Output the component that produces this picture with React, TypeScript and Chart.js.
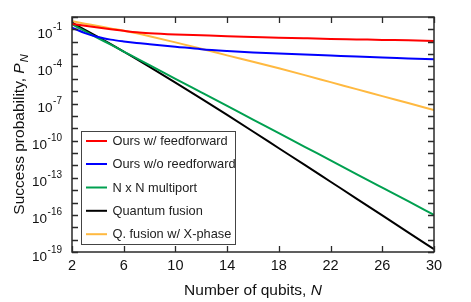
import React, { useEffect, useRef } from "react";
import { Chart, registerables } from "chart.js";

Chart.register(...registerables);

// Number of qubits
const N = [2, 3, 4, 5, 6, 7, 8, 10, 12, 14, 16, 18, 20, 22, 24, 26, 28, 30];

// Success probabilities
const oursFeedforward = [2.7e-1, 1.95e-1, 1.4e-1, 1.02e-1, 7.6e-2, 5.8e-2, 4.9e-2, 3.9e-2, 3.3e-2, 2.8e-2, 2.45e-2, 2.14e-2, 1.9e-2, 1.7e-2, 1.55e-2, 1.41e-2, 1.29e-2, 1.17e-2];
const oursNoFeedforward = [1.38e-1, 5.0e-2, 2.4e-2, 1.48e-2, 1.05e-2, 7.9e-3, 6.3e-3, 4.0e-3, 2.5e-3, 1.78e-3, 1.35e-3, 1.1e-3, 9.1e-4, 7.6e-4, 6.3e-4, 5.4e-4, 4.5e-4, 3.8e-4];
const multiport = [2.6e-1, 7.2e-2, 2.0e-2, 5.8e-3, 1.6e-3, 4.6e-4, 1.3e-4, 1.0e-5, 8.1e-7, 6.5e-8, 5.1e-9, 4.1e-10, 3.2e-11, 2.6e-12, 2.0e-13, 1.6e-14, 1.3e-15, 1.0e-16];
const quantumFusion = [3.5e-1, 9.3e-2, 2.45e-2, 6.3e-3, 1.58e-3, 3.9e-4, 9.3e-5, 5.0e-6, 2.5e-7, 1.2e-8, 5.5e-10, 2.45e-11, 1.1e-12, 4.8e-14, 2.1e-15, 9.1e-17, 3.9e-18, 1.66e-19];
const fusionXPhase = [4.5e-1, 2.9e-1, 1.87e-1, 1.2e-1, 7.8e-2, 4.8e-2, 2.8e-2, 8.9e-3, 2.7e-3, 7.9e-4, 2.4e-4, 7.1e-5, 2.0e-5, 5.4e-6, 1.48e-6, 4.0e-7, 1.1e-7, 3.0e-8];

const seriesLabels = [
  "Ours w/ feedforward",
  "Ours w/o reedforward",
  "N x N multiport",
  "Quantum fusion",
  "Q. fusion w/ X-phase",
];
const seriesColors = ["#ff0000", "#0000ff", "#00a050", "#000000", "#ffb940"];
const seriesValues = [oursFeedforward, oursNoFeedforward, multiport, quantumFusion, fusionXPhase];

// Axis ticks
const xTickValues = [2, 6, 10, 14, 18, 22, 26, 30];
const yLabelExponents = [-1, -4, -7, -10, -13, -16, -19];
const yTickExponents = [0, -1, -2, -3, -4, -5, -6, -7, -8, -9, -10, -11, -12, -13, -14, -15, -16, -17, -18, -19];

const FONT = '"Liberation Sans", Arial, Helvetica, sans-serif';

const decorPlugin = {
  id: "decor",
  afterDraw(chart: any) {
    const ctx = chart.ctx as CanvasRenderingContext2D;
    const { left, right, top, bottom } = chart.chartArea;
    const xs = chart.scales.x;
    const ys = chart.scales.y;
    ctx.save();

    // frame
    ctx.strokeStyle = "#2a2a2a";
    ctx.lineWidth = 1.5;
    ctx.strokeRect(left, top, right - left, bottom - top);

    // y ticks (inward, both sides)
    ctx.lineWidth = 1.3;
    ctx.beginPath();
    for (const e of yTickExponents) {
      const y = Math.round(ys.getPixelForValue(Math.pow(10, e))) + 0.5;
      ctx.moveTo(left, y);
      ctx.lineTo(left + 6, y);
      ctx.moveTo(right, y);
      ctx.lineTo(right - 6, y);
    }
    // x ticks (inward, both sides)
    for (const v of xTickValues) {
      const x = Math.round(xs.getPixelForValue(v)) + 0.5;
      ctx.moveTo(x, bottom);
      ctx.lineTo(x, bottom - 6);
      ctx.moveTo(x, top);
      ctx.lineTo(x, top + 6);
    }
    ctx.stroke();

    // x tick labels
    ctx.fillStyle = "#111";
    ctx.font = `14.5px ${FONT}`;
    ctx.textAlign = "center";
    ctx.textBaseline = "alphabetic";
    for (const v of xTickValues) {
      ctx.fillText(String(v), xs.getPixelForValue(v), bottom + 18);
    }

    // y tick labels 10^e
    for (const e of yLabelExponents) {
      const y = ys.getPixelForValue(Math.pow(10, e));
      const expText = String(e);
      ctx.font = `10px ${FONT}`;
      const ew = ctx.measureText(expText).width;
      const expRight = left - 10;
      ctx.textAlign = "left";
      ctx.fillText(expText, expRight - ew, y + 0.5);
      ctx.font = `13.5px ${FONT}`;
      ctx.textAlign = "right";
      ctx.fillText("10", expRight - ew - 0.5, y + 8.5);
    }

    // x axis title
    {
      const cx = (left + right) / 2;
      const a = "Number of qubits, ";
      ctx.font = `15.5px ${FONT}`;
      const aw = ctx.measureText(a).width;
      ctx.font = `italic 15.5px ${FONT}`;
      const bw = ctx.measureText("N").width;
      const x0 = cx - (aw + bw) / 2;
      ctx.textAlign = "left";
      ctx.font = `15.5px ${FONT}`;
      ctx.fillText(a, x0, 294.5);
      ctx.font = `italic 15.5px ${FONT}`;
      ctx.fillText("N", x0 + aw, 294.5);
    }

    // y axis title (rotated)
    {
      ctx.save();
      const cy = (top + bottom) / 2;
      ctx.translate(24, cy);
      ctx.rotate(-Math.PI / 2);
      const a = "Success probability, ";
      ctx.font = `15.5px ${FONT}`;
      const aw = ctx.measureText(a).width;
      ctx.font = `italic 15.5px ${FONT}`;
      const pw = ctx.measureText("P").width;
      ctx.font = `italic 11px ${FONT}`;
      const nw = ctx.measureText("N").width;
      const total = aw + pw + nw + 1;
      let x = -total / 2;
      ctx.textAlign = "left";
      ctx.font = `15.5px ${FONT}`;
      ctx.fillText(a, x, 0);
      x += aw;
      ctx.font = `italic 15.5px ${FONT}`;
      ctx.fillText("P", x, 0);
      x += pw + 1;
      ctx.font = `italic 11px ${FONT}`;
      ctx.fillText("N", x, 3.5);
      ctx.restore();
    }

    // legend
    {
      const bx = 81.5, by = 131.5, bw = 154, bh = 113;
      ctx.fillStyle = "#fff";
      ctx.fillRect(bx, by, bw, bh);
      ctx.strokeStyle = "#444";
      ctx.lineWidth = 1;
      ctx.strokeRect(bx, by, bw, bh);
      const rowY = [141, 164, 187.5, 210.8, 234.2];
      ctx.font = `12.8px ${FONT}`;
      ctx.textAlign = "left";
      ctx.textBaseline = "middle";
      for (let i = 0; i < seriesLabels.length; i++) {
        ctx.strokeStyle = seriesColors[i];
        ctx.lineWidth = 2;
        ctx.beginPath();
        ctx.moveTo(86, rowY[i]);
        ctx.lineTo(107, rowY[i]);
        ctx.stroke();
        ctx.fillStyle = "#222";
        ctx.fillText(seriesLabels[i], 112.5, rowY[i] + 0.5);
      }
    }
    ctx.restore();
  },
};

export default function App() {
  const canvasRef = useRef<HTMLCanvasElement | null>(null);

  useEffect(() => {
    if (!canvasRef.current) return;
    const datasets = seriesLabels.map((label, i) => ({
      label,
      data: N.map((n, j) => ({ x: n, y: seriesValues[i][j] })),
      borderColor: seriesColors[i],
      backgroundColor: seriesColors[i],
      borderWidth: 2,
      pointRadius: 0,
      fill: false,
      cubicInterpolationMode: "monotone" as const,
      order: i,
    }));
    const chart = new Chart(canvasRef.current, {
      type: "line",
      data: { datasets },
      options: {
        animation: false,
        responsive: false,
        devicePixelRatio: 1,
        layout: { padding: { top: 17, right: 37, left: 0, bottom: 0 } },
        plugins: { legend: { display: false }, tooltip: { enabled: false } },
        scales: {
          x: {
            type: "linear",
            min: 2,
            max: 30,
            grid: { display: false },
            border: { display: false },
            ticks: { display: false },
            afterFit: (s: any) => {
              s.height = 50;
            },
          },
          y: {
            type: "logarithmic",
            min: 1e-19,
            max: 1,
            grid: { display: false },
            border: { display: false },
            ticks: { display: false },
            afterFit: (s: any) => {
              s.width = 72;
            },
          },
        },
      },
      plugins: [decorPlugin],
    });
    return () => chart.destroy();
  }, []);

  return (
    <div style={{ position: "absolute", left: 0, top: 0, width: 471, height: 302, background: "#fff" }}>
      <canvas ref={canvasRef} width={471} height={302} style={{ display: "block" }} />
    </div>
  );
}
